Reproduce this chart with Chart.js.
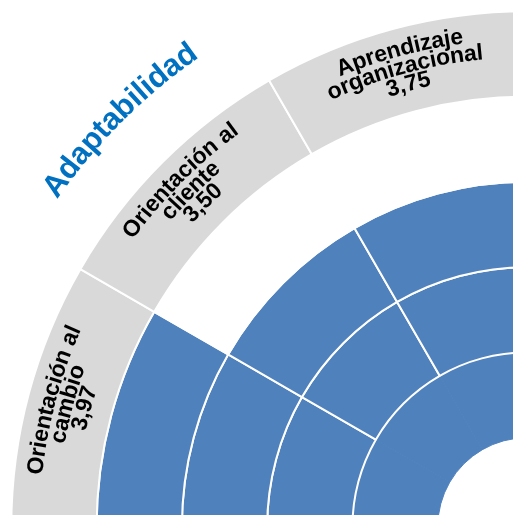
<!DOCTYPE html>
<html>
<head>
<meta charset="utf-8">
<script src="https://cdn.jsdelivr.net/npm/chart.js@4"></script>
<style>
  html, body { margin:0; padding:0; background:#ffffff; overflow:hidden; width:513px; height:515px; }
  #wrap { position:absolute; left:-74px; top:-74px; width:601px; height:601px; }
</style>
</head>
<body>
<div id="wrap"><canvas id="c" width="601" height="601"></canvas></div>
<script>
// ---- data ----
const groupName = 'Adaptabilidad';
const categories = ['Orientación al cambio', 'Orientación al cliente', 'Aprendizaje organizacional'];
const labelLines = [['Orientación al', 'cambio'], ['Orientación al', 'cliente'], ['Aprendizaje', 'organizacional']];
const scores = [3.97, 3.50, 3.75];
const filledLevels = [4, 3, 3];      // number of blue rings filled per competency
const levels = [4, 3, 2, 1];          // ring levels, outer to inner

const BLUE = '#4f81bd';
const GRAY = '#d9d9d9';
const NONE = 'rgba(0,0,0,0)';

function fmt(v) { return v.toFixed(2).replace('.', ','); }

const datasets = [
  { label: groupName, data: [categories.length], backgroundColor: [NONE], borderWidth: 0 },
  { label: 'Competencias', data: categories.map(() => 1), backgroundColor: categories.map(() => GRAY), borderColor: '#ffffff', borderWidth: 2 }
].concat(levels.map(l => {
  const allFilled = filledLevels.every(f => f >= l);
  return {
    label: 'Nivel ' + l,
    data: categories.map(() => 1),
    backgroundColor: filledLevels.map(f => f >= l ? BLUE : NONE),
    borderColor: allFilled && l === 1 ? BLUE : '#ffffff',
    borderWidth: allFilled && l === 1 ? 1 : 2
  };
}));

function drawArcText(ctx, text, cx, cy, r, mid) {
  const chars = [...text];
  const widths = chars.map(ch => ctx.measureText(ch).width);
  const total = widths.reduce((a, b) => a + b, 0);
  let a = mid - total / (2 * r);
  chars.forEach((ch, j) => {
    const w = widths[j];
    const ang = a + w / (2 * r);
    ctx.save();
    ctx.translate(cx + r * Math.cos(ang), cy + r * Math.sin(ang));
    ctx.rotate(ang + Math.PI / 2);
    ctx.fillText(ch, 0, 0);
    ctx.restore();
    a += w / r;
  });
}

const arcTextPlugin = {
  id: 'arcText',
  afterDatasetsDraw(chart) {
    const ctx = chart.ctx;
    ctx.save();
    ctx.textAlign = 'center';
    ctx.textBaseline = 'middle';
    ctx.fillStyle = '#000000';
    ctx.font = 'bold 23px "Liberation Sans", Arial, sans-serif';
    const ring = chart.getDatasetMeta(1).data;
    ring.forEach((arc, i) => {
      const p = arc.getProps(['x', 'y', 'startAngle', 'endAngle', 'innerRadius', 'outerRadius'], true);
      const mid = (p.startAngle + p.endAngle) / 2;
      const rMid = (p.innerRadius + p.outerRadius) / 2;
      const lines = labelLines[i].concat([fmt(scores[i])]);
      const offs = [21, 3, -15];
      lines.forEach((ln, k) => drawArcText(ctx, ln, p.x, p.y, rMid + offs[k], mid));
    });
    const g = chart.getDatasetMeta(0).data[0].getProps(['x', 'y', 'startAngle', 'endAngle', 'innerRadius', 'outerRadius'], true);
    ctx.fillStyle = '#0070c0';
    ctx.font = 'bold 31px "Liberation Sans", Arial, sans-serif';
    drawArcText(ctx, groupName, g.x, g.y, (g.innerRadius + g.outerRadius) / 2 + 23, (g.startAngle + g.endAngle) / 2);
    ctx.restore();
  }
};

new Chart(document.getElementById('c'), {
  type: 'doughnut',
  data: { labels: categories, datasets: datasets },
  options: {
    responsive: false,
    animation: false,
    devicePixelRatio: 1,
    rotation: -90,
    circumference: 90,
    cutout: (89 / 599 * 100) + '%',
    layout: { padding: 0 },
    plugins: { legend: { display: false }, tooltip: { enabled: false } }
  },
  plugins: [arcTextPlugin]
});
</script>
</body>
</html>
